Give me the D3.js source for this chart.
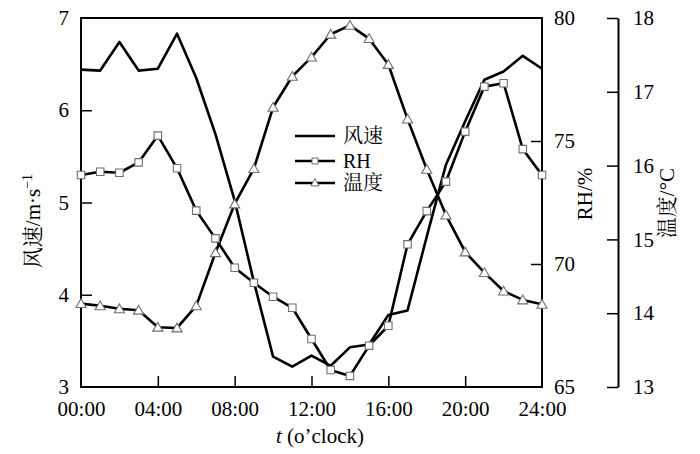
<!DOCTYPE html>
<html><head><meta charset="utf-8">
<script src="https://cdn.jsdelivr.net/npm/d3@7"></script>
<style>
body{margin:0;background:#fff;}
svg{display:block;}
text{font-family:"Liberation Serif","Times New Roman","Noto Serif CJK SC","Noto Sans CJK SC",serif;fill:#000;}
</style></head>
<body>
<script>
const hours = [0,1,2,3,4,5,6,7,8,9,10,11,12,13,14,15,16,17,18,19,20,21,22,23,24];
const wind = [6.44,6.43,6.74,6.43,6.45,6.83,6.35,5.74,5.02,4.14,3.33,3.22,3.34,3.23,3.43,3.46,3.78,3.83,4.63,5.41,5.88,6.33,6.42,6.59,6.45];
const rh = [73.62,73.75,73.71,74.13,75.22,73.89,72.17,71.04,69.85,69.24,68.67,68.22,66.95,65.69,65.45,66.68,67.49,70.80,72.15,73.35,75.38,77.21,77.35,74.67,73.62];
const temp = [14.13,14.10,14.06,14.04,13.81,13.80,14.10,14.82,15.48,15.96,16.79,17.21,17.47,17.78,17.90,17.72,17.37,16.63,15.95,15.33,14.83,14.55,14.30,14.18,14.12];
const xTicks = [0,4,8,12,16,20,24];
const xTickLabels = ["00:00","04:00","08:00","12:00","16:00","20:00","24:00"];
const windTicks = [3,4,5,6,7];
const rhTicks = [65,70,75,80];
const tempTicks = [13,14,15,16,17,18];
const legendLabels = ["风速","RH","温度"];

const W = 700, H = 454;
const L = 81, R = 542, T = 18, B = 387;
const svg = d3.select("body").append("svg").attr("width", W).attr("height", H);

const x = d3.scaleLinear().domain([0,24]).range([L,R]);
const yW = d3.scaleLinear().domain([3,7]).range([B,T]);
const yR = d3.scaleLinear().domain([65,80]).range([B,T]);
const yT = d3.scaleLinear().domain([13,18]).range([B,T]);

function styleAxis(g){
  g.selectAll(".tick line").attr("stroke","#000").attr("stroke-width",1.5);
  g.selectAll(".tick text").style("font-size","21px").attr("fill","#000");
}

// left axis
const gL = svg.append("g").attr("transform",`translate(${L},0)`)
  .call(d3.axisLeft(yW).tickValues(windTicks).tickFormat(d3.format("d")).tickSizeInner(-11).tickSizeOuter(0).tickPadding(12));
gL.select(".domain").remove(); styleAxis(gL);
gL.selectAll(".tick").filter(d=>d===3||d===7).select("line").remove();

// bottom axis
const gB = svg.append("g").attr("transform",`translate(0,${B})`)
  .call(d3.axisBottom(x).tickValues(xTicks).tickFormat((d,i)=>xTickLabels[i]).tickSizeInner(-11).tickSizeOuter(0).tickPadding(14));
gB.select(".domain").remove(); styleAxis(gB);
gB.selectAll(".tick").filter(d=>d===0||d===24).select("line").remove();

// RH axis
const gR = svg.append("g").attr("transform",`translate(${R},0)`)
  .call(d3.axisRight(yR).tickValues(rhTicks).tickFormat(d3.format("d")).tickSizeInner(-11).tickSizeOuter(0).tickPadding(12));
gR.select(".domain").remove(); styleAxis(gR);
gR.selectAll(".tick").filter(d=>d===65||d===80).select("line").remove();

// Temperature axis
const TX = 618;
const gT = svg.append("g").attr("transform",`translate(${TX},0)`)
  .call(d3.axisRight(yT).tickValues(tempTicks).tickFormat(d3.format("d")).tickSizeInner(-11).tickSizeOuter(0).tickPadding(15));
gT.select(".domain").attr("stroke","#000").attr("stroke-width",2);
styleAxis(gT);

// frame
svg.append("rect").attr("x",L).attr("y",T).attr("width",R-L).attr("height",B-T)
  .attr("fill","none").attr("stroke","#000").attr("stroke-width",2);

const lineW = d3.line().x((d,i)=>x(hours[i])).y(d=>yW(d));
const lineR = d3.line().x((d,i)=>x(hours[i])).y(d=>yR(d));
const lineT = d3.line().x((d,i)=>x(hours[i])).y(d=>yT(d));

svg.append("path").datum(wind).attr("d",lineW).attr("fill","none").attr("stroke","#000").attr("stroke-width",2.6).attr("stroke-linejoin","round");
svg.append("path").datum(rh).attr("d",lineR).attr("fill","none").attr("stroke","#000").attr("stroke-width",2.6).attr("stroke-linejoin","round");
svg.append("path").datum(temp).attr("d",lineT).attr("fill","none").attr("stroke","#000").attr("stroke-width",2.6).attr("stroke-linejoin","round");

const sq = d3.symbol().type(d3.symbolSquare).size(56);
const tri = d3.symbol().type(d3.symbolTriangle).size(44);
const mkStroke = "#6e6e6e";

svg.append("g").selectAll("path").data(rh).join("path")
  .attr("d",sq).attr("transform",(d,i)=>`translate(${x(hours[i])},${yR(d)})`)
  .attr("fill","#fff").attr("stroke",mkStroke).attr("stroke-width",1.1);
svg.append("g").selectAll("path").data(temp).join("path")
  .attr("d",tri).attr("transform",(d,i)=>`translate(${x(hours[i])},${yT(d)+1})`)
  .attr("fill","#fff").attr("stroke",mkStroke).attr("stroke-width",1.1);

// legend
const lg = svg.append("g");
const ly = [136,161,183];
ly.forEach((yy,i)=>{
  lg.append("line").attr("x1",295).attr("x2",335).attr("y1",yy).attr("y2",yy).attr("stroke","#000").attr("stroke-width",2.6);
  if(i===1) lg.append("path").attr("d",d3.symbol().type(d3.symbolSquare).size(36)).attr("transform",`translate(315,${yy})`).attr("fill","#fff").attr("stroke",mkStroke).attr("stroke-width",1);
  if(i===2) lg.append("path").attr("d",d3.symbol().type(d3.symbolTriangle).size(30)).attr("transform",`translate(315,${yy+0.5})`).attr("fill","#fff").attr("stroke",mkStroke).attr("stroke-width",1);
  lg.append("text").attr("x",343).attr("y",yy+7).style("font-size","20px").text(legendLabels[i]);
});

// axis titles
const tl = svg.append("text").attr("transform","translate(40,221) rotate(-90)").attr("text-anchor","middle").style("font-size","21px");
tl.append("tspan").text("风速/m·s");
tl.append("tspan").attr("dy","-8").style("font-size","14px").text("−1");

svg.append("text").attr("transform","translate(592,194) rotate(-90)").attr("text-anchor","middle").style("font-size","21px").text("RH/%");
svg.append("text").attr("transform","translate(674,203) rotate(-90)").attr("text-anchor","middle").style("font-size","21px").text("温度/°C");

const xt = svg.append("text").attr("x",320).attr("y",443).attr("text-anchor","middle").style("font-size","21px");
xt.append("tspan").style("font-style","italic").text("t");
xt.append("tspan").text(" (o’clock)");
</script>
</body></html>
